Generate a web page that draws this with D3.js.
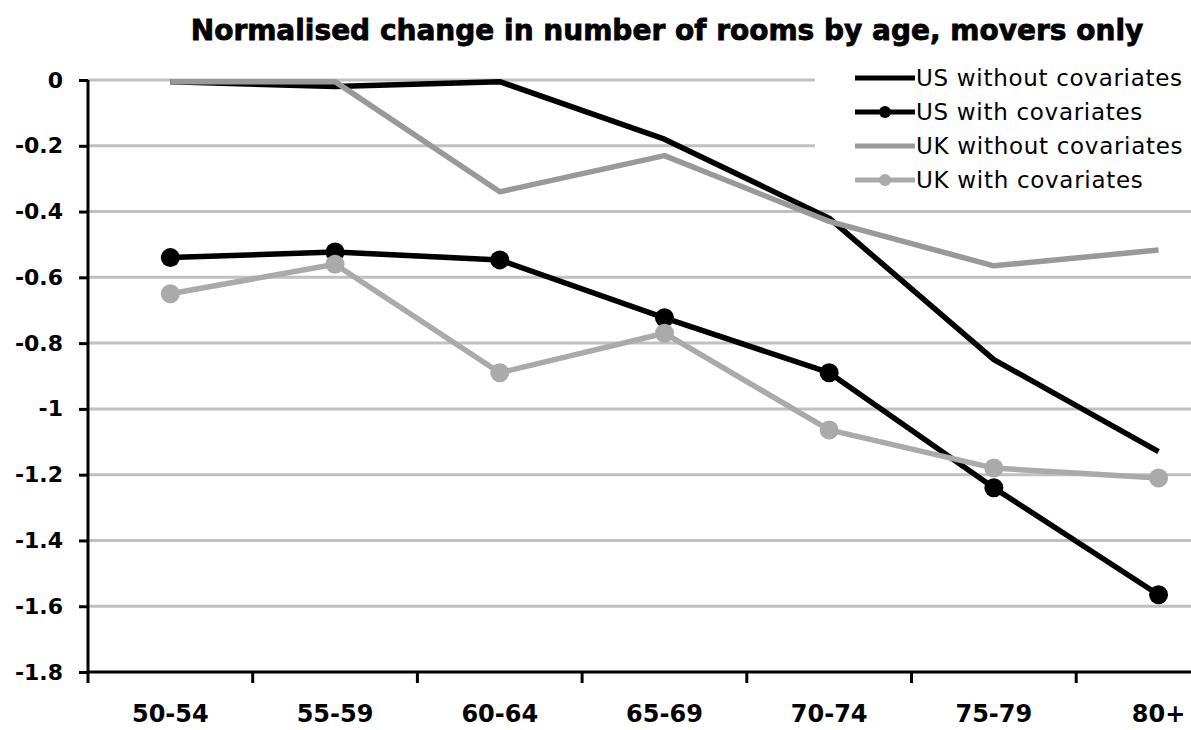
<!DOCTYPE html>
<html>
<meta charset="utf-8">
<head>
    <style>
        body { margin: 0; background: #fff; }
        .axis text { font: bold 22px "DejaVu Sans", sans-serif; fill: #000; }
        .axis.x text { font-size: 24px; }
        .axis path, .axis line { stroke: #000; stroke-width: 3px; }
        .grid line { stroke: #c0c0c0; stroke-width: 3px; }
        .legend text { font: 23px "DejaVu Sans", sans-serif; fill: #000; letter-spacing: 0.7px; }
    </style>
</head>
<body>
    <div id="chart"></div>
    <script src="https://d3js.org/d3.v7.min.js"></script>
    <script>
        // data
        const categories = ["50-54", "55-59", "60-64", "65-69", "70-74", "75-79", "80+"];
        const usWithout = [-0.005, -0.02, -0.005, -0.18, -0.42, -0.85, -1.13];
        const usWith = [-0.54, -0.523, -0.547, -0.723, -0.89, -1.24, -1.565];
        const ukWithout = [-0.005, -0.005, -0.34, -0.23, -0.43, -0.565, -0.517];
        const ukWith = [-0.65, -0.56, -0.89, -0.77, -1.064, -1.18, -1.21];
        const yTicks = [0, -0.2, -0.4, -0.6, -0.8, -1, -1.2, -1.4, -1.6, -1.8];
        const seriesNames = ["US without covariates", "US with covariates", "UK without covariates", "UK with covariates"];

        const series = [
            { name: seriesNames[0], values: usWithout, color: "#000", markers: false },
            { name: seriesNames[1], values: usWith, color: "#000", markers: true },
            { name: seriesNames[2], values: ukWithout, color: "#999", markers: false },
            { name: seriesNames[3], values: ukWith, color: "#aaa", markers: true }
        ];

        var width = 1191, height = 730;
        var plotLeft = 88, plotTop = 80, plotBottom = 672, step = 164.7;

        var svg = d3.select("#chart")
            .append("svg")
            .attr("width", width)
            .attr("height", height);

        var x = d3.scaleBand()
            .domain(categories)
            .range([plotLeft, plotLeft + step * categories.length])
            .padding(0);
        var y = d3.scaleLinear()
            .domain([-1.8, 0])
            .range([plotBottom, plotTop]);

        // title
        svg.append("text")
            .attr("x", 667)
            .attr("y", 40)
            .attr("text-anchor", "middle")
            .style("font", "bold 28px 'DejaVu Sans', sans-serif")
            .style("stroke", "#000")
            .style("stroke-width", "0.8px")
            .text("Normalised change in number of rooms by age, movers only");

        // gridlines
        svg.append("g")
            .attr("class", "grid")
            .selectAll("line")
            .data(yTicks.filter(d => d !== -1.8))
            .join("line")
            .attr("x1", plotLeft)
            .attr("x2", width)
            .attr("y1", d => y(d))
            .attr("y2", d => y(d));

        // y axis
        var yAxis = svg.append("g")
            .attr("class", "axis y")
            .attr("transform", "translate(" + plotLeft + ",0)")
            .call(d3.axisLeft(y).tickValues(yTicks).tickSize(9).tickPadding(16)
                .tickFormat(d => String(d)));
        yAxis.select(".domain").attr("d", "M0," + plotTop + "V" + plotBottom);

        // x axis: labels at band centres, ticks at band edges
        var xAxis = svg.append("g")
            .attr("class", "axis x")
            .attr("transform", "translate(0," + plotBottom + ")")
            .call(d3.axisBottom(x).tickSize(0).tickPadding(33));
        xAxis.select(".domain").attr("d", "M" + plotLeft + ",0H" + width);
        xAxis.selectAll(".edge")
            .data(categories)
            .join("line")
            .attr("class", "edge")
            .attr("x1", d => x(d))
            .attr("x2", d => x(d))
            .attr("y1", 0)
            .attr("y2", 11);

        var line = d3.line()
            .x((d, i) => x(categories[i]) + x.bandwidth() / 2)
            .y(d => y(d));

        series.forEach(function (s) {
            svg.append("path")
                .datum(s.values)
                .attr("fill", "none")
                .attr("stroke", s.color)
                .attr("stroke-width", 5.5)
                .attr("stroke-linejoin", "round")
                .attr("d", line);
            if (s.markers) {
                svg.append("g")
                    .selectAll("circle")
                    .data(s.values)
                    .join("circle")
                    .attr("cx", (d, i) => x(categories[i]) + x.bandwidth() / 2)
                    .attr("cy", d => y(d))
                    .attr("r", 9.5)
                    .attr("fill", s.color);
            }
        });

        // legend
        var legend = svg.append("g").attr("class", "legend");
        legend.append("rect")
            .attr("x", 815).attr("y", 58)
            .attr("width", width - 815).attr("height", 142)
            .attr("fill", "#fff");
        var rows = legend.selectAll(".row")
            .data(series)
            .join("g")
            .attr("class", "row")
            .attr("transform", (d, i) => "translate(0," + (78 + i * 34) + ")");
        rows.append("line")
            .attr("x1", 855).attr("x2", 915)
            .attr("stroke", d => d.color)
            .attr("stroke-width", 5);
        rows.filter(d => d.markers)
            .append("circle")
            .attr("cx", 885).attr("r", 6)
            .attr("fill", d => d.color);
        rows.append("text")
            .attr("x", 916)
            .attr("dy", "0.36em")
            .text(d => d.name);
    </script>
</body>
</html>
